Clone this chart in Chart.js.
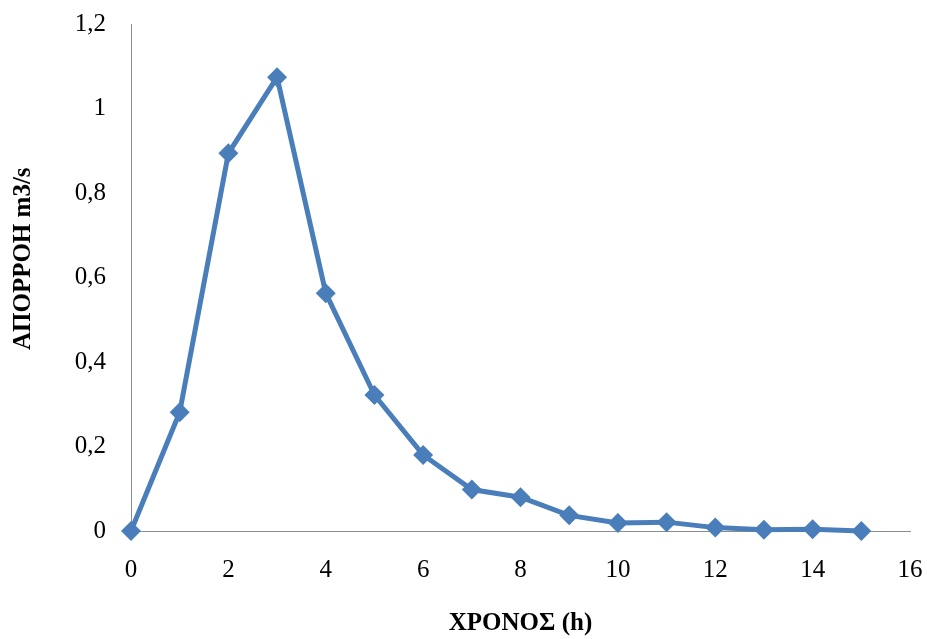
<!DOCTYPE html>
<html>
<head>
<meta charset="utf-8">
<script src="https://cdn.jsdelivr.net/npm/chart.js@4/dist/chart.umd.min.js"></script>
<style>
html,body{margin:0;padding:0;background:#fff;}
canvas{display:block;}
</style>
</head>
<body>
<canvas id="c" width="927" height="639"></canvas>
<script>
const hours = [0,1,2,3,4,5,6,7,8,9,10,11,12,13,14,15];
const runoff = [0,0.281,0.894,1.074,0.563,0.322,0.180,0.098,0.080,0.037,0.019,0.021,0.008,0.003,0.004,0];
const xTitle = 'ΧΡΟΝΟΣ (h)';
const yTitle = '      ΑΠΟΡΡΟΗ m3/s';

const serif = '"Liberation Serif", "Times New Roman", serif';
const points = hours.map((h,i)=>({x:h,y:runoff[i]}));

new Chart(document.getElementById('c'), {
  type: 'line',
  data: {
    datasets: [{
      data: points,
      borderColor: '#4A7EBB',
      backgroundColor: '#4A7EBB',
      borderWidth: 5,
      pointStyle: 'rectRot',
      pointRadius: 10,
      pointBorderWidth: 0,
      pointBackgroundColor: '#4A7EBB',
      tension: 0,
      clip: false
    }]
  },
  options: {
    responsive: false,
    animation: false,
    devicePixelRatio: 1,
    layout: { padding: { top: 24, right: 17, bottom: 0, left: 0 } },
    plugins: { legend: { display: false }, tooltip: { enabled: false } },
    scales: {
      x: {
        type: 'linear',
        min: 0, max: 16,
        ticks: { stepSize: 2, color: '#000', font: { family: serif, size: 25 }, padding: 24, maxRotation: 0 },
        grid: { display: false, drawTicks: false, tickLength: 0 },
        border: { display: true, color: '#8c8c8c', width: 1 },
        title: { display: true, text: xTitle, color: '#000', font: { family: serif, size: 25, weight: 'bold' }, padding: { top: 0, bottom: 0 } },
        afterFit: s => { s.height = 108; s.paddingLeft = 0; s.paddingRight = 0; }
      },
      y: {
        min: 0, max: 1.2,
        ticks: { stepSize: 0.2, color: '#000', font: { family: serif, size: 25 }, padding: 25,
          callback: v => (Math.round(v*10)/10).toString().replace('.', ',') },
        grid: { display: false, drawTicks: false, tickLength: 0 },
        border: { display: true, color: '#8c8c8c', width: 1 },
        title: { display: true, text: yTitle, color: '#000', font: { family: serif, size: 25, weight: 'bold' }, padding: { top: 9, bottom: 9 } },
        afterFit: s => { s.width = 131; s.paddingTop = 0; s.paddingBottom = 0; }
      }
    }
  }
});
</script>
</body>
</html>
